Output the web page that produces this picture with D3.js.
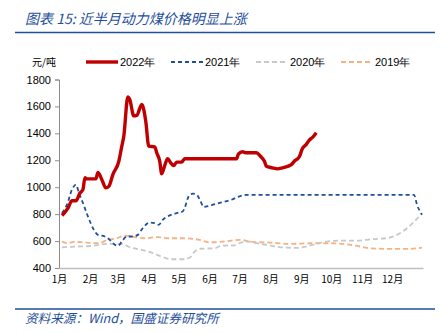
<!DOCTYPE html>
<html><head><meta charset="utf-8">
<script src="https://cdn.jsdelivr.net/npm/d3@7"></script>
<style>body{margin:0;background:#fff}svg{display:block}</style>
</head><body>
<svg id="c" width="444" height="333"></svg>
<script>
const title = "图表 15: 近半月动力煤价格明显上涨";
const source = "资料来源：Wind，国盛证券研究所";
const unit = "元/吨";
const seriesNames = ["2022年","2021年","2020年","2019年"];
const monthLabels = ["1月","2月","3月","4月","5月","6月","7月","8月","9月","10月","11月","12月"];
const yTicks = [400,600,800,1000,1200,1400,1600,1800];

const d2022 = [["01-04",790],["01-10",845],["01-14",900],["01-18",900],["01-22",957],["01-25",982],["01-27",1070],["01-29",1062],["02-07",1062],["02-09",1110],["02-13",1056],["02-17",995],["02-20",1006],["02-24",1094],["03-02",1193],["03-05",1305],["03-07",1380],["03-11",1670],["03-13",1650],["03-17",1530],["03-20",1534],["03-25",1615],["03-29",1490],["04-01",1305],["04-07",1300],["04-09",1256],["04-12",1193],["04-14",1100],["04-17",1161],["04-20",1211],["04-23",1181],["04-26",1161],["04-29",1186],["05-04",1186],["05-07",1211],["06-28",1211],["06-30",1248],["07-04",1263],["07-08",1256],["07-18",1256],["07-22",1230],["07-26",1193],["07-28",1156],["08-03",1144],["08-08",1136],["08-13",1144],["08-22",1168],["08-25",1193],["08-30",1226],["09-02",1286],["09-06",1318],["09-09",1350],["09-12",1368],["09-16",1405]];
const d2021 = [["01-04",808],["01-09",870],["01-14",982],["01-18",1019],["01-21",957],["01-25",883],["01-30",783],["02-05",683],["02-09",646],["02-16",634],["02-21",609],["02-26",572],["03-01",564],["03-05",596],["03-10",634],["03-16",634],["03-21",646],["03-26",696],["04-02",738],["04-07",733],["04-11",721],["04-15",758],["04-20",783],["04-29",808],["05-05",820],["05-07",845],["05-11",932],["05-15",952],["05-19",945],["05-23",895],["05-26",853],["06-01",863],["06-11",883],["06-23",907],["07-01",932],["07-08",943],["12-23",943],["12-26",870],["12-31",795]];
const d2020 = [["01-04",554],["01-17",559],["02-03",564],["02-19",579],["03-05",579],["03-13",554],["03-25",534],["04-04",514],["04-14",484],["04-24",465],["05-05",465],["05-12",476],["05-17",522],["05-23",543],["06-06",547],["06-13",566],["06-26",568],["07-03",590],["07-11",596],["07-18",584],["07-28",572],["08-07",559],["08-17",551],["08-30",550],["09-07",562],["09-12",572],["09-26",596],["10-12",604],["10-27",604],["11-11",614],["11-25",621],["12-08",654],["12-18",708],["12-25",758],["12-31",808]];
const d2019 = [["01-04",596],["01-10",584],["01-17",596],["01-27",589],["02-09",584],["02-19",609],["02-28",621],["03-08",641],["03-18",629],["03-28",621],["04-10",629],["04-20",621],["05-05",621],["05-22",609],["06-01",591],["06-14",596],["07-01",609],["07-14",594],["07-31",589],["08-20",579],["09-12",584],["09-29",584],["10-12",579],["10-27",564],["11-08",547],["11-28",542],["12-18",542],["12-31",551]];

const parse = d3.timeParse("%Y-%m-%d");
const toPts = arr => arr.map(([d,v]) => ({date: parse("2022-"+d), value: v}));
const series = [
  {name: seriesNames[0], data: toPts(d2022), color:"#c00000", width:3.4, dash:null},
  {name: seriesNames[1], data: toPts(d2021), color:"#1f4e9c", width:1.8, dash:"4,3"},
  {name: seriesNames[2], data: toPts(d2020), color:"#c8c8c8", width:1.8, dash:"5,3"},
  {name: seriesNames[3], data: toPts(d2019), color:"#f4b183", width:1.8, dash:"5,3"}
];

const svg = d3.select("#c");
const blue = "#1f4e9c";

svg.append("text").attr("x",25).attr("y",24).attr("fill",blue)
  .attr("font-family","'Noto Sans CJK SC', sans-serif").attr("font-size",14).attr("font-style","italic")
  .text(title);
svg.append("line").attr("x1",15).attr("x2",435).attr("y1",32.5).attr("y2",32.5).attr("stroke",blue).attr("stroke-width",1.6);
svg.append("line").attr("x1",15).attr("x2",435).attr("y1",309).attr("y2",309).attr("stroke",blue).attr("stroke-width",1.6);
svg.append("text").attr("x",25).attr("y",323).attr("fill",blue)
  .attr("font-family","'Noto Sans CJK SC', sans-serif").attr("font-size",12.6).attr("font-style","italic")
  .text(source);

const x = d3.scaleTime().domain([parse("2022-01-01"), parse("2023-01-01")]).range([59, 423]);
const y = d3.scaleLinear().domain([400,1800]).range([268, 79.5]);

// y axis
const ya = svg.append("g").attr("transform","translate(59,0)")
  .call(d3.axisLeft(y).tickValues(yTicks).tickSize(4).tickPadding(4).tickFormat(d3.format("d")));
ya.select(".domain").attr("stroke","#8c8c8c");
ya.selectAll(".tick line").attr("stroke","#8c8c8c");
ya.selectAll("text").attr("font-family","'Liberation Sans', Arial, sans-serif").attr("font-size",11).attr("fill","#000");

// x axis
const monthStarts = d3.range(12).map(m => new Date(2022, m, 1));
const xa = svg.append("g").attr("transform","translate(0,268)")
  .call(d3.axisBottom(x).tickValues(monthStarts).tickSize(0).tickPadding(8).tickFormat((d,i)=>monthLabels[i]));
xa.select(".domain").attr("stroke","#bfbfbf").attr("stroke-width",1.5);
xa.selectAll("text").attr("font-family","'Noto Sans CJK SC', sans-serif").attr("font-size",10).attr("fill","#000");

const line = d3.line().x(d=>x(d.date)).y(d=>y(d.value)).curve(d3.curveMonotoneX);
[...series].reverse().forEach(s => {
  svg.append("path").datum(s.data).attr("d", line).attr("fill","none")
    .attr("stroke", s.color).attr("stroke-width", s.width)
    .attr("stroke-dasharray", s.dash).attr("stroke-linejoin","round");
});

// legend
svg.append("text").attr("x",32).attr("y",66).attr("font-family","'Noto Sans CJK SC', sans-serif")
  .attr("font-size",10).attr("fill","#000").text(unit);
const lx = [86, 171, 256, 341];
series.forEach((s,i) => {
  const g = svg.append("g");
  g.append("line").attr("x1",lx[i]).attr("x2",lx[i]+32).attr("y1",62).attr("y2",62)
    .attr("stroke",s.color).attr("stroke-width",s.width).attr("stroke-dasharray",s.dash);
  g.append("text").attr("x",lx[i]+34).attr("y",66).attr("font-family","'Liberation Sans', Arial, sans-serif")
    .attr("font-size",11).attr("fill","#000").text(s.name);
});
</script>
</body></html>
